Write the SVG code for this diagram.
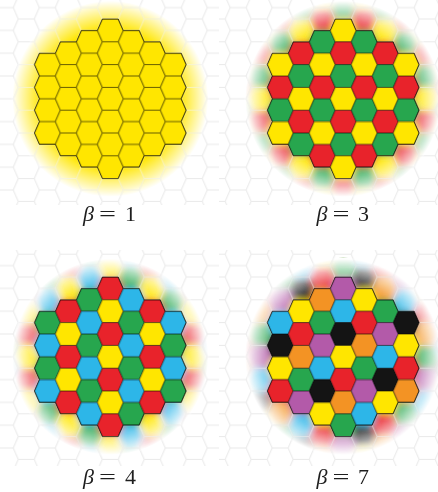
<svg xmlns="http://www.w3.org/2000/svg" xmlns:xlink="http://www.w3.org/1999/xlink" width="438" height="492" viewBox="0 0 438 492">
<style>
.y{fill:#ffe600}.r{fill:#e8232b}.g{fill:#27a64e}.b{fill:#2db6e8}.o{fill:#f39324}.p{fill:#b35aa9}.k{fill:#141414}
.edge{fill:none;stroke:#000;stroke-opacity:.6;stroke-width:1}
.lbl{font-family:"Liberation Serif","DejaVu Serif",serif;font-size:22px;fill:#1e1e1e}
.it{font-style:italic}
</style>
<defs>
<path id="h" d="M-.619,0L-.381,-1L.381,-1L.619,0L.381,1L-.381,1Z"/>
<path id="gp" d="M13,0L8,11.4L13,22.8M0,11.4H8M13,0H29L34,11.4L29,22.8M34,11.4H42M13,22.8H29" fill="none"/>
<pattern id="gf" width="42" height="22.8" patternUnits="userSpaceOnUse"><use href="#gp" stroke="#e9e9e9" stroke-width="1"/></pattern>
<pattern id="gw" width="42" height="22.8" patternUnits="userSpaceOnUse"><use href="#gp" stroke="#fff" stroke-opacity=".55" stroke-width="1"/></pattern>
<pattern id="gd" width="42" height="22.8" patternUnits="userSpaceOnUse"><use href="#gp" stroke="#000" stroke-opacity=".6" stroke-width="1"/></pattern>
<path id="regp" d="M-8,-79.8H8L13,-68.4H29L34,-57H50L55,-45.6H71L76,-34.2L71,-22.8L76,-11.4L71,0L76,11.4L71,22.8L76,34.2L71,45.6H55L50,57H34L29,68.4H13L8,79.8H-8L-13,68.4H-29L-34,57H-50L-55,45.6H-71L-76,34.2L-71,22.8L-76,11.4L-71,0L-76,-11.4L-71,-22.8L-76,-34.2L-71,-45.6H-55L-50,-57H-34L-29,-68.4H-13Z"/>
<clipPath id="reg"><use href="#regp"/></clipPath>
<clipPath id="cc"><circle r="99"/></clipPath>
<radialGradient id="fg" gradientUnits="userSpaceOnUse" cx="0" cy="0" r="98"><stop offset=".7" stop-color="#fff"/><stop offset="1" stop-color="#fff" stop-opacity="0"/></radialGradient>
<mask id="fade" maskUnits="userSpaceOnUse" x="-130" y="-130" width="260" height="260"><circle r="98" fill="url(#fg)"/></mask>
<filter id="bl" x="-10%" y="-10%" width="120%" height="120%"><feGaussianBlur stdDeviation="3"/></filter>
<g id="E3"><use href="#h" y="-10" class="r"/><use href="#h" y="-8" class="g"/><use href="#h" y="-6" class="y"/><use href="#h" y="-4" class="r"/><use href="#h" y="-2" class="g"/><use href="#h" y="0" class="y"/><use href="#h" y="2" class="r"/><use href="#h" y="4" class="g"/><use href="#h" y="6" class="y"/><use href="#h" y="8" class="r"/><use href="#h" y="10" class="g"/></g>
<g id="O3"><use href="#h" y="-11" class="g"/><use href="#h" y="-9" class="y"/><use href="#h" y="-7" class="r"/><use href="#h" y="-5" class="g"/><use href="#h" y="-3" class="y"/><use href="#h" y="-1" class="r"/><use href="#h" y="1" class="g"/><use href="#h" y="3" class="y"/><use href="#h" y="5" class="r"/><use href="#h" y="7" class="g"/><use href="#h" y="9" class="y"/><use href="#h" y="11" class="r"/></g>
<g id="E4"><use href="#h" y="-12" class="y"/><use href="#h" y="-10" class="r"/><use href="#h" y="-8" class="y"/><use href="#h" y="-6" class="r"/><use href="#h" y="-4" class="y"/><use href="#h" y="-2" class="r"/><use href="#h" y="0" class="y"/><use href="#h" y="2" class="r"/><use href="#h" y="4" class="y"/><use href="#h" y="6" class="r"/><use href="#h" y="8" class="y"/><use href="#h" y="10" class="r"/><use href="#h" y="12" class="y"/></g>
<g id="O4"><use href="#h" y="-13" class="b"/><use href="#h" y="-11" class="g"/><use href="#h" y="-9" class="b"/><use href="#h" y="-7" class="g"/><use href="#h" y="-5" class="b"/><use href="#h" y="-3" class="g"/><use href="#h" y="-1" class="b"/><use href="#h" y="1" class="g"/><use href="#h" y="3" class="b"/><use href="#h" y="5" class="g"/><use href="#h" y="7" class="b"/><use href="#h" y="9" class="g"/><use href="#h" y="11" class="b"/><use href="#h" y="13" class="g"/></g>
<g id="Ke"><use href="#h" y="-20" class="p"/><use href="#h" y="-18" class="b"/><use href="#h" y="-16" class="k"/><use href="#h" y="-14" class="y"/><use href="#h" y="-12" class="r"/><use href="#h" y="-10" class="o"/><use href="#h" y="-8" class="g"/><use href="#h" y="-6" class="p"/><use href="#h" y="-4" class="b"/><use href="#h" y="-2" class="k"/><use href="#h" y="0" class="y"/><use href="#h" y="2" class="r"/><use href="#h" y="4" class="o"/><use href="#h" y="6" class="g"/><use href="#h" y="8" class="p"/><use href="#h" y="10" class="b"/><use href="#h" y="12" class="k"/><use href="#h" y="14" class="y"/><use href="#h" y="16" class="r"/><use href="#h" y="18" class="o"/><use href="#h" y="20" class="g"/></g>
<g id="Ko"><use href="#h" y="-19" class="r"/><use href="#h" y="-17" class="o"/><use href="#h" y="-15" class="g"/><use href="#h" y="-13" class="p"/><use href="#h" y="-11" class="b"/><use href="#h" y="-9" class="k"/><use href="#h" y="-7" class="y"/><use href="#h" y="-5" class="r"/><use href="#h" y="-3" class="o"/><use href="#h" y="-1" class="g"/><use href="#h" y="1" class="p"/><use href="#h" y="3" class="b"/><use href="#h" y="5" class="k"/><use href="#h" y="7" class="y"/><use href="#h" y="9" class="r"/><use href="#h" y="11" class="o"/><use href="#h" y="13" class="g"/><use href="#h" y="15" class="p"/><use href="#h" y="17" class="b"/><use href="#h" y="19" class="k"/></g>
<g id="L3" transform="scale(21,11.4)"><use href="#O3" x="-5"/><use href="#E3" x="-4"/><use href="#O3" x="-3"/><use href="#E3" x="-2"/><use href="#O3" x="-1"/><use href="#E3"/><use href="#O3" x="1"/><use href="#E3" x="2"/><use href="#O3" x="3"/><use href="#E3" x="4"/><use href="#O3" x="5"/></g>
<g id="L4" transform="scale(21,11.4)"><use href="#O4" x="-5" y="2"/><use href="#E4" x="-4"/><use href="#O4" x="-3"/><use href="#E4" x="-2" y="2"/><use href="#O4" x="-1" y="2"/><use href="#E4"/><use href="#O4" x="1"/><use href="#E4" x="2" y="2"/><use href="#O4" x="3" y="2"/><use href="#E4" x="4"/><use href="#O4" x="5"/></g>
<g id="L7" transform="scale(21,11.4)"><use href="#Ko" x="-5" y="-10"/><use href="#Ke" x="-4" y="-8"/><use href="#Ko" x="-3" y="-6"/><use href="#Ke" x="-2" y="-4"/><use href="#Ko" x="-1" y="-2"/><use href="#Ke"/><use href="#Ko" x="1" y="2"/><use href="#Ke" x="2" y="4"/><use href="#Ko" x="3" y="6"/><use href="#Ke" x="4" y="8"/><use href="#Ko" x="5" y="10"/></g>
</defs>
<rect width="438" height="492" fill="#fff"/>
<g id="beta1" transform="translate(110.3,98.8)">
<rect x="-110.3" y="-98.8" width="219" height="205" fill="url(#gf)"/>
<g mask="url(#fade)" clip-path="url(#cc)"><circle r="100" class="y"/></g>
<g clip-path="url(#cc)"><rect x="-100" y="-100" width="200" height="200" fill="url(#gw)"/></g>
<g clip-path="url(#reg)"><rect x="-80" y="-82" width="160" height="164" class="y"/><rect x="-80" y="-82" width="160" height="164" fill="url(#gd)"/></g>
<use href="#regp" class="edge"/>
</g>
<g id="beta3" transform="translate(343.2,98.8)">
<rect x="-124.2" y="-98.8" width="219" height="205" fill="url(#gf)"/>
<g mask="url(#fade)" clip-path="url(#cc)"><use href="#L3" filter="url(#bl)"/></g>
<g clip-path="url(#cc)"><rect x="-100" y="-100" width="200" height="200" fill="url(#gw)"/></g>
<g clip-path="url(#reg)"><use href="#L3"/><rect x="-80" y="-82" width="160" height="164" fill="url(#gd)"/></g>
<use href="#regp" class="edge"/>
</g>
<g id="beta4" transform="translate(110.3,356.8)">
<rect x="-110.3" y="-106.8" width="219" height="216" fill="url(#gf)"/>
<g mask="url(#fade)" clip-path="url(#cc)"><use href="#L4" filter="url(#bl)"/></g>
<g clip-path="url(#cc)"><rect x="-100" y="-100" width="200" height="200" fill="url(#gw)"/></g>
<g clip-path="url(#reg)"><use href="#L4"/><rect x="-80" y="-82" width="160" height="164" fill="url(#gd)"/></g>
<use href="#regp" class="edge"/>
</g>
<g id="beta7" transform="translate(343.2,356.8)">
<rect x="-124.2" y="-106.8" width="219" height="216" fill="url(#gf)"/>
<g mask="url(#fade)" clip-path="url(#cc)"><use href="#L7" filter="url(#bl)"/></g>
<g clip-path="url(#cc)"><rect x="-100" y="-100" width="200" height="200" fill="url(#gw)"/></g>
<g clip-path="url(#reg)"><use href="#L7"/><rect x="-80" y="-82" width="160" height="164" fill="url(#gd)"/></g>
<use href="#regp" class="edge"/>
</g>
<g id="labels">
<text class="lbl" y="221"><tspan class="it" x="83">β</tspan><tspan x="99" textLength="17" lengthAdjust="spacingAndGlyphs">=</tspan><tspan x="125">1</tspan></text>
<text class="lbl" y="221"><tspan class="it" x="316.5">β</tspan><tspan x="332.5" textLength="17" lengthAdjust="spacingAndGlyphs">=</tspan><tspan x="358">3</tspan></text>
<text class="lbl" y="484"><tspan class="it" x="83">β</tspan><tspan x="99" textLength="17" lengthAdjust="spacingAndGlyphs">=</tspan><tspan x="125">4</tspan></text>
<text class="lbl" y="484"><tspan class="it" x="316.5">β</tspan><tspan x="332.5" textLength="17" lengthAdjust="spacingAndGlyphs">=</tspan><tspan x="358">7</tspan></text>
</g>
</svg>
